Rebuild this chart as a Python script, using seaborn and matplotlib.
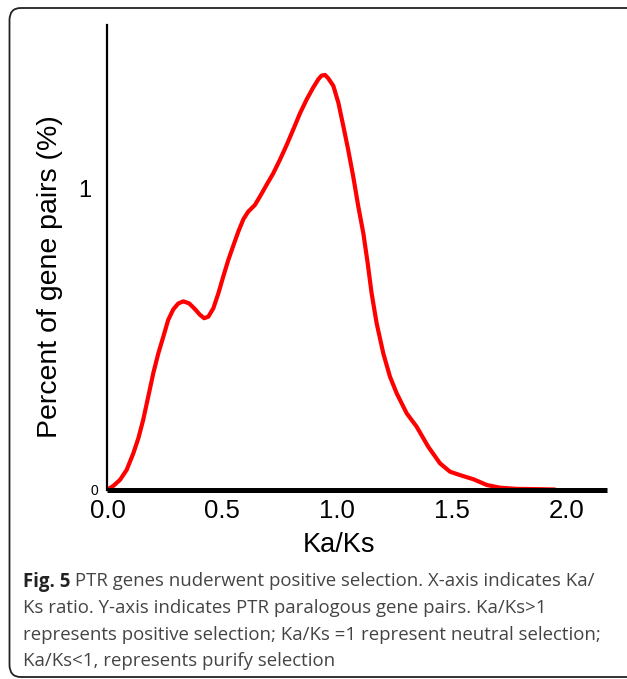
import numpy as np
import pandas as pd
import matplotlib
matplotlib.use("Agg")
import matplotlib.pyplot as plt
import seaborn as sns
from matplotlib.patches import FancyBboxPatch
from matplotlib.transforms import ScaledTranslation

# ---- data ----
ka_ks = [0.0, 0.025, 0.054, 0.083, 0.112, 0.134, 0.155, 0.177, 0.199, 0.221,
         0.243, 0.264, 0.286, 0.308, 0.330, 0.356, 0.381, 0.403, 0.421, 0.439,
         0.461, 0.483, 0.504, 0.526, 0.548, 0.570, 0.592, 0.613, 0.642, 0.664,
         0.693, 0.722, 0.751, 0.781, 0.810, 0.839, 0.868, 0.897, 0.919, 0.933,
         0.948, 0.962, 0.984, 1.006, 1.028, 1.049, 1.071, 1.093, 1.115, 1.134,
         1.151, 1.173, 1.202, 1.231, 1.260, 1.304, 1.347, 1.398, 1.449, 1.493,
         1.536, 1.595, 1.653, 1.711, 1.784, 1.885, 1.95]
percent = [0.0, 0.012, 0.032, 0.065, 0.120, 0.170, 0.231, 0.308, 0.386, 0.452,
           0.508, 0.563, 0.598, 0.618, 0.625, 0.618, 0.599, 0.580, 0.569, 0.574,
           0.602, 0.652, 0.707, 0.762, 0.810, 0.857, 0.898, 0.923, 0.945, 0.973,
           1.012, 1.050, 1.095, 1.145, 1.197, 1.250, 1.296, 1.336, 1.363, 1.375,
           1.377, 1.366, 1.341, 1.285, 1.206, 1.128, 1.039, 0.940, 0.851, 0.751,
           0.652, 0.552, 0.452, 0.375, 0.320, 0.253, 0.209, 0.142, 0.087, 0.059,
           0.048, 0.034, 0.015, 0.006, 0.002, 0.001, 0.0]
x_ticks = [0.0, 0.5, 1.0, 1.5, 2.0]
x_tick_labels = ["0.0", "0.5", "1.0", "1.5", "2.0"]
y_ticks = [0, 1]
y_tick_labels = ["0", "1"]
x_label = "Ka/Ks"
y_label = "Percent of gene pairs (%)"
caption_bold = "Fig. 5"
caption_lines = [
    " PTR genes nuderwent positive selection. X-axis indicates Ka/",
    "Ks ratio. Y-axis indicates PTR paralogous gene pairs. Ka/Ks>1",
    "represents positive selection; Ka/Ks =1 represent neutral selection;",
    "Ka/Ks<1, represents purify selection",
]

df = pd.DataFrame({"ka_ks": ka_ks, "percent": percent})

sns.set_theme(style="white")
plt.rcParams["font.family"] = ["Liberation Sans", "DejaVu Sans"]

W, H = 627, 679
fig = plt.figure(figsize=(W / 100, H / 100), dpi=100)

def fx(px):
    return px / W

def fy(py):
    return 1 - py / H

ax_left, ax_right, ax_top, ax_bottom = 106.7, 606.7, 25, 489.5
ax = fig.add_axes([fx(ax_left), fy(ax_bottom), fx(ax_right - ax_left),
                   (ax_bottom - ax_top) / H])

sns.lineplot(data=df, x="ka_ks", y="percent", ax=ax, color="#ff0000",
             linewidth=3.0, solid_capstyle="round", solid_joinstyle="round")

ax.set_xlim(-0.004, 2.176)
ax.set_ylim(0, 1.543)

for s in ["top", "right"]:
    ax.spines[s].set_visible(False)
ax.spines["left"].set_linewidth(1.6)
ax.spines["left"].set_color("black")
ax.spines["bottom"].set_linewidth(3.6)
ax.spines["bottom"].set_color("black")
ax.spines["bottom"].set_capstyle("butt")

ax.set_xticks(x_ticks)
ax.set_xticklabels(x_tick_labels, fontsize=18.5)
ax.set_yticks(y_ticks)
ax.set_yticklabels(y_tick_labels)
ax.tick_params(axis="x", length=2, width=1, color="black", pad=5, labelcolor="black")
ax.tick_params(axis="y", length=2, width=1, color="black", pad=4, labelcolor="black")
ylabs = ax.get_yticklabels()
ylabs[0].set_fontsize(10)
ylabs[1].set_fontsize(17)
ylabs[1].set_transform(ylabs[1].get_transform()
                       + ScaledTranslation(-0.07, 0, fig.dpi_scale_trans))

ax.set_xlabel(x_label, fontsize=19.5, color="black")
ax.xaxis.set_label_coords(0.4646, -0.0915)
ax.set_ylabel(y_label, fontsize=20.5, color="black")
ax.yaxis.set_label_coords(-0.087, 0.458)
ax.grid(False)
ax.set_facecolor("white")

# rounded frame
frame = FancyBboxPatch((fx(9.5), fy(677)), fx(640) - fx(9.5), (677 - 8) / H,
                       boxstyle="round,pad=0,rounding_size=0.018",
                       transform=fig.transFigure, fill=False,
                       edgecolor="#222222", linewidth=1.3, clip_on=False)
fig.patches.append(frame)

# caption
cap_font = ["Open Sans", "DejaVu Sans"]
cap_size = 13.4
baselines = [586.5, 613, 640, 666]
renderer = fig.canvas.get_renderer()
t_bold = fig.text(fx(23), fy(baselines[0]), caption_bold, fontsize=cap_size,
                  fontweight="bold", family=cap_font, color="#222222",
                  va="baseline", ha="left")
bb = t_bold.get_window_extent(renderer=renderer)
fig.text(bb.x1 / W, fy(baselines[0]), caption_lines[0], fontsize=cap_size,
         family=cap_font, color="#444444", va="baseline", ha="left")
for line, b in zip(caption_lines[1:], baselines[1:]):
    fig.text(fx(23), fy(b), line, fontsize=cap_size, family=cap_font,
             color="#444444", va="baseline", ha="left")

fig.savefig("out.png", dpi=100, facecolor="white")
